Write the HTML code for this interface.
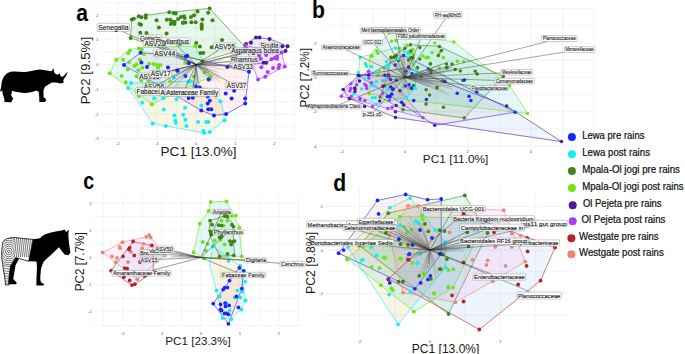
<!DOCTYPE html><html><head><meta charset="utf-8"><style>html,body{margin:0;padding:0;background:#fff;}svg{display:block;font-family:"Liberation Sans",sans-serif;}</style></head><body>
<svg width="685" height="354" viewBox="0 0 685 354">
<defs><clipPath id="zrc"><path d="M2.8,242.4 C4,239.5 7,238 13.8,237.5 C18,237.8 24,238.8 33.2,239.3 L28.6,261.3 L22.6,259.6 L19.2,258.4 L15.5,257.5 L10.5,266 L9.6,272 L8.7,281 L8.6,283.5 L9.2,285 L5.4,285 L5.2,281 L4.4,275 L3.2,268.5 L2.6,264 C1.8,260 1.6,256 1.8,252 C1.9,248.5 2.2,245 2.8,242.4 Z"/></clipPath><clipPath id="zrump"><rect x="0" y="236" width="14.5" height="30"/></clipPath></defs>
<path d="M2.5,79.4 C4,75.5 6.5,72.8 10,71.9 C14,71.2 20,72 25,71.9 C30,71.5 35,69.8 39.9,69.5 C43,69.6 47,70.6 51.1,71.3 L52.1,70.4 L53.5,68.0 L54.1,72.2 C55,73.3 56,74.2 57,74.4 L58.6,74.3 L59.9,73.2 L60.4,75.8 L62.5,76.9 C64,75.5 66,73.5 67.6,71.5 C66.8,74.5 65.5,77 64.4,78.2 L63.4,80 L63.6,82.4 L61.1,83.4 C59,83.2 57.5,82.8 56.1,82.5 L51.7,82.6 L48.6,84.4 L45,86.8 L43.4,90.6 L43.6,97.2 L45.5,98.6 L46,100.6 L44.9,102 L39.3,102 L39.3,98 L38.7,91.8 L36.2,90.6 C33,92.2 29,93 24.8,93 C21,92.8 17,92.2 12,90.8 L11.2,95.5 L13.1,98.6 L11.3,102.3 L4.4,101.9 L4.4,99.3 L2.6,93.5 L2.2,90.4 L0.4,91.8 L0.2,90.6 L1.2,87 C1.3,84 1.8,81.4 2.5,79.4 Z" fill="#000"/>
<path d="M2.8,242.4 C4,239.5 7,238 13.8,237.5 C18,237.8 24,238.8 33,239.3 L40,238.2 L41.6,236.4 L45.2,234.2 C49,232.8 53,231.8 57,231.2 L61.8,230.4 L64.5,229.4 L66.2,232 L68.8,229.8 L68.3,234.8 C68.6,238 68.8,242 69.3,245.2 L70.4,252.4 L68.3,255.3 L64.5,254.5 L60.8,249.8 L59,247.2 L55.3,250.7 L50.7,255.3 L46.3,259 L43.6,261.8 L41,268.5 L40.2,278.3 L40.8,282 L44.2,284.3 L43.5,285.6 L36.4,285.6 L36.4,280.1 L37,267.3 L36.5,261.5 L28.6,261.3 L22.6,259.6 L19.2,258.4 L15.6,265 L14.4,272 L13.2,279 L16.6,282.4 L16.3,284.2 L8.6,284.2 L8.7,281 L8.2,278 L8.6,283.5 L9.2,285 L5.4,285 L5.2,281 L4.4,275 L3.2,268.5 L2.6,264 C1.8,260 1.6,256 1.8,252 C1.9,248.5 2.2,245 2.8,242.4 Z" fill="#000"/>
<g clip-path="url(#zrc)"><rect x="0" y="230" width="40" height="60" fill="#fff"/><g stroke="#000" stroke-width="0.55" fill="none"><g><path d="M12.2,236 Q13.6,248 14.6,257"/><path d="M14.2,236 Q15.6,248 16.6,257"/><path d="M16.2,236 Q17.6,248 18.6,257"/><path d="M18.2,236 Q19.6,248 20.6,257"/><path d="M20.2,236 Q21.6,248 22.6,257"/><path d="M22.2,236 Q23.6,248 24.6,257"/><path d="M24.2,236 Q25.6,248 26.6,257"/><path d="M26.2,236 Q27.6,248 28.6,257"/><path d="M28.2,236 Q29.6,248 30.6,257"/><path d="M30.2,236 Q31.6,248 32.6,257"/><path d="M32.2,236 Q33.6,248 34.6,257"/></g><g clip-path="url(#zrump)"><rect x="0" y="236" width="14.5" height="30" fill="#fff" stroke="none"/><circle cx="8.8" cy="251.5" r="1.3"/><circle cx="8.8" cy="251.5" r="3.3"/><circle cx="8.8" cy="251.5" r="5.3"/><circle cx="8.8" cy="251.5" r="7.3"/><circle cx="8.8" cy="251.5" r="9.3"/><circle cx="8.8" cy="251.5" r="11.3"/><circle cx="8.8" cy="251.5" r="13.3"/></g><line x1="2" y1="265.5" x2="13" y2="267.0"/><line x1="2" y1="268.0" x2="13" y2="269.5"/><line x1="2" y1="270.5" x2="13" y2="272.0"/><line x1="2" y1="273.0" x2="13" y2="274.5"/><line x1="2" y1="275.5" x2="13" y2="277.0"/><line x1="2" y1="278.0" x2="13" y2="279.5"/><line x1="2" y1="280.5" x2="13" y2="282.0"/><line x1="2" y1="283.0" x2="13" y2="284.5"/></g></g><path d="M2.8,242.4 C4,239.5 7,238 13.8,237.5 C18,237.8 24,238.8 33.2,239.3 L28.6,261.3 L22.6,259.6 L19.2,258.4 L15.5,257.5 L10.5,266 L9.6,272 L8.7,281 L8.6,283.5 L9.2,285 L5.4,285 L5.2,281 L4.4,275 L3.2,268.5 L2.6,264 C1.8,260 1.6,256 1.8,252 C1.9,248.5 2.2,245 2.8,242.4 Z" fill="none" stroke="#000" stroke-width="0.7"/>
<g stroke="#ebebeb" stroke-width="0.6"><line x1="117.7" y1="2" x2="117.7" y2="140"/><line x1="137.3" y1="2" x2="137.3" y2="140"/><line x1="156.9" y1="2" x2="156.9" y2="140"/><line x1="176.5" y1="2" x2="176.5" y2="140"/><line x1="196.1" y1="2" x2="196.1" y2="140"/><line x1="215.7" y1="2" x2="215.7" y2="140"/><line x1="235.3" y1="2" x2="235.3" y2="140"/><line x1="254.9" y1="2" x2="254.9" y2="140"/><line x1="274.5" y1="2" x2="274.5" y2="140"/><line x1="294.1" y1="2" x2="294.1" y2="140"/><line x1="100" y1="2.8" x2="296" y2="2.8"/><line x1="100" y1="15.2" x2="296" y2="15.2"/><line x1="100" y1="27.5" x2="296" y2="27.5"/><line x1="100" y1="39.9" x2="296" y2="39.9"/><line x1="100" y1="52.2" x2="296" y2="52.2"/><line x1="100" y1="64.6" x2="296" y2="64.6"/><line x1="100" y1="76.9" x2="296" y2="76.9"/><line x1="100" y1="89.3" x2="296" y2="89.3"/><line x1="100" y1="101.6" x2="296" y2="101.6"/><line x1="100" y1="114" x2="296" y2="114"/><line x1="100" y1="126.3" x2="296" y2="126.3"/><line x1="100" y1="138.7" x2="296" y2="138.7"/></g>
<g font-size="4.2" fill="#555"><text x="117.7" y="144.9" text-anchor="middle">-2</text><text x="156.9" y="144.9" text-anchor="middle">-1</text><text x="196.1" y="144.9" text-anchor="middle">0</text><text x="235.3" y="144.9" text-anchor="middle">1</text><text x="274.5" y="144.9" text-anchor="middle">2</text><text x="98.6" y="16.7" text-anchor="end">2</text><text x="98.6" y="41.4" text-anchor="end">1</text><text x="98.6" y="66.1" text-anchor="end">0</text><text x="98.6" y="90.8" text-anchor="end">-1</text><text x="98.6" y="115.5" text-anchor="end">-2</text><text x="98.6" y="140.2" text-anchor="end">-3</text></g>
<g stroke="#ebebeb" stroke-width="0.6"><line x1="342" y1="7" x2="342" y2="148"/><line x1="373.5" y1="7" x2="373.5" y2="148"/><line x1="405" y1="7" x2="405" y2="148"/><line x1="436.5" y1="7" x2="436.5" y2="148"/><line x1="468" y1="7" x2="468" y2="148"/><line x1="499.5" y1="7" x2="499.5" y2="148"/><line x1="531" y1="7" x2="531" y2="148"/><line x1="562.5" y1="7" x2="562.5" y2="148"/><line x1="594" y1="7" x2="594" y2="148"/><line x1="318" y1="8.6" x2="593" y2="8.6"/><line x1="318" y1="25.8" x2="593" y2="25.8"/><line x1="318" y1="43" x2="593" y2="43"/><line x1="318" y1="60.2" x2="593" y2="60.2"/><line x1="318" y1="77.4" x2="593" y2="77.4"/><line x1="318" y1="94.6" x2="593" y2="94.6"/><line x1="318" y1="111.8" x2="593" y2="111.8"/><line x1="318" y1="129" x2="593" y2="129"/><line x1="318" y1="146.2" x2="593" y2="146.2"/></g>
<g font-size="4.2" fill="#555"><text x="342" y="152.5" text-anchor="middle">-2</text><text x="405" y="152.5" text-anchor="middle">0</text><text x="468" y="152.5" text-anchor="middle">2</text><text x="531" y="152.5" text-anchor="middle">4</text><text x="316.5" y="44.5" text-anchor="end">2</text><text x="316.5" y="78.9" text-anchor="end">0</text><text x="316.5" y="113.3" text-anchor="end">-2</text><text x="316.5" y="147.7" text-anchor="end">-4</text></g>
<g stroke="#ebebeb" stroke-width="0.6"><line x1="103.3" y1="195" x2="103.3" y2="326"/><line x1="122.8" y1="195" x2="122.8" y2="326"/><line x1="142.3" y1="195" x2="142.3" y2="326"/><line x1="161.8" y1="195" x2="161.8" y2="326"/><line x1="181.3" y1="195" x2="181.3" y2="326"/><line x1="200.8" y1="195" x2="200.8" y2="326"/><line x1="220.3" y1="195" x2="220.3" y2="326"/><line x1="239.8" y1="195" x2="239.8" y2="326"/><line x1="259.3" y1="195" x2="259.3" y2="326"/><line x1="278.8" y1="195" x2="278.8" y2="326"/><line x1="298.3" y1="195" x2="298.3" y2="326"/><line x1="93" y1="203.1" x2="302" y2="203.1"/><line x1="93" y1="216.7" x2="302" y2="216.7"/><line x1="93" y1="230.3" x2="302" y2="230.3"/><line x1="93" y1="243.9" x2="302" y2="243.9"/><line x1="93" y1="257.5" x2="302" y2="257.5"/><line x1="93" y1="271.1" x2="302" y2="271.1"/><line x1="93" y1="284.7" x2="302" y2="284.7"/><line x1="93" y1="298.3" x2="302" y2="298.3"/><line x1="93" y1="311.9" x2="302" y2="311.9"/><line x1="93" y1="325.5" x2="302" y2="325.5"/></g>
<g font-size="4.2" fill="#555"><text x="122.8" y="334.8" text-anchor="middle">-2</text><text x="161.8" y="334.8" text-anchor="middle">-1</text><text x="200.8" y="334.8" text-anchor="middle">0</text><text x="239.8" y="334.8" text-anchor="middle">1</text><text x="278.8" y="334.8" text-anchor="middle">2</text><text x="91.5" y="204.6" text-anchor="end">2</text><text x="91.5" y="231.8" text-anchor="end">1</text><text x="91.5" y="259" text-anchor="end">0</text><text x="91.5" y="286.2" text-anchor="end">-1</text><text x="91.5" y="313.4" text-anchor="end">-2</text></g>
<g stroke="#ebebeb" stroke-width="0.6"><line x1="359.5" y1="188" x2="359.5" y2="336.5"/><line x1="394.8" y1="188" x2="394.8" y2="336.5"/><line x1="430" y1="188" x2="430" y2="336.5"/><line x1="465.2" y1="188" x2="465.2" y2="336.5"/><line x1="500.5" y1="188" x2="500.5" y2="336.5"/><line x1="535.8" y1="188" x2="535.8" y2="336.5"/><line x1="324.9" y1="206.5" x2="567" y2="206.5"/><line x1="324.9" y1="228.2" x2="567" y2="228.2"/><line x1="324.9" y1="250" x2="567" y2="250"/><line x1="324.9" y1="271.8" x2="567" y2="271.8"/><line x1="324.9" y1="293.5" x2="567" y2="293.5"/><line x1="324.9" y1="315.2" x2="567" y2="315.2"/></g>
<g font-size="4.2" fill="#555"><text x="359.5" y="342.5" text-anchor="middle">-2</text><text x="430" y="342.5" text-anchor="middle">0</text><text x="500.5" y="342.5" text-anchor="middle">2</text><text x="323" y="208" text-anchor="end">2</text><text x="323" y="251.5" text-anchor="end">0</text><text x="323" y="295" text-anchor="end">-2</text></g>
<polygon points="128.2,88 131,83.1 190.7,81.2 221.2,101 224.6,120.4 209.8,132 204.1,133.1 166,126 152.7,123.5" fill="#B79F00" fill-opacity="0.1" stroke="#12eef8" stroke-width="0.6" stroke-linejoin="round"/><polygon points="124,65.1 140.6,52.7 185.9,56.5 249,71.7 245.2,103.4 226.1,114 214,115.5 201.3,110.4" fill="#F8766D" fill-opacity="0.1" stroke="#1428ff" stroke-width="0.6" stroke-linejoin="round"/><polygon points="109.7,73.3 116.3,59.8 129.3,50.2 138.9,47.5 195.4,46.3 210.8,76.5 151.9,104.2" fill="#00BFC4" fill-opacity="0.1" stroke="#6fe31a" stroke-width="0.6" stroke-linejoin="round"/><polygon points="130.6,38 131.8,19.5 145.9,15.2 169.3,12.3 209.6,8.4 246.5,48.5 202.4,61.2" fill="#00BA38" fill-opacity="0.1" stroke="#41821a" stroke-width="0.6" stroke-linejoin="round"/><polygon points="227.3,67.1 245.9,44 256,37.5 269.5,38.9 287.6,46.3 285.5,51 266.1,62.7" fill="#619CFF" fill-opacity="0.1" stroke="#4e1a96" stroke-width="0.6" stroke-linejoin="round"/><polygon points="245.1,45.6 281.7,52.5 284.8,66.5 265.3,76.7 258,79.5" fill="#F564E3" fill-opacity="0.1" stroke="#a541f2" stroke-width="0.6" stroke-linejoin="round"/>
<g fill="#41821a"><circle cx="131.8" cy="19.5" r="2.0"/><circle cx="133.8" cy="18.8" r="2.0"/><circle cx="138.8" cy="16.3" r="2.0"/><circle cx="141.4" cy="17.2" r="2.0"/><circle cx="145.9" cy="15.2" r="2.0"/><circle cx="145.7" cy="17.7" r="2.0"/><circle cx="139.5" cy="24" r="2.0"/><circle cx="141" cy="24.8" r="2.0"/><circle cx="156.6" cy="20.3" r="2.0"/><circle cx="158.9" cy="27.6" r="2.0"/><circle cx="140.3" cy="32.7" r="2.0"/><circle cx="146.5" cy="33" r="2.0"/><circle cx="166.6" cy="33.6" r="2.0"/><circle cx="130.6" cy="38" r="2.0"/><circle cx="169.3" cy="12.3" r="2.0"/><circle cx="173.6" cy="13.1" r="2.0"/><circle cx="175.8" cy="13.5" r="2.0"/><circle cx="166.8" cy="19.7" r="2.0"/><circle cx="170.2" cy="19.7" r="2.0"/><circle cx="172.5" cy="21.7" r="2.0"/><circle cx="174.7" cy="21.7" r="2.0"/><circle cx="170.8" cy="24" r="2.0"/><circle cx="174.4" cy="24" r="2.0"/><circle cx="178.1" cy="19.1" r="2.0"/><circle cx="180.9" cy="16.9" r="2.0"/><circle cx="183.2" cy="22.5" r="2.0"/><circle cx="209.6" cy="8.4" r="2.0"/><circle cx="197.5" cy="11.4" r="2.0"/><circle cx="208.2" cy="12.7" r="2.0"/><circle cx="184" cy="16.3" r="2.0"/><circle cx="184.7" cy="18" r="2.0"/><circle cx="191" cy="16.9" r="2.0"/><circle cx="194.1" cy="15.2" r="2.0"/><circle cx="182.8" cy="22.9" r="2.0"/><circle cx="185.4" cy="22.5" r="2.0"/><circle cx="191.3" cy="22.2" r="2.0"/><circle cx="195.6" cy="22.2" r="2.0"/><circle cx="202.4" cy="19.5" r="2.0"/><circle cx="212.5" cy="20.3" r="2.0"/><circle cx="201.7" cy="24.2" r="2.0"/><circle cx="201.7" cy="26.5" r="2.0"/><circle cx="201.7" cy="28.7" r="2.0"/><circle cx="196.2" cy="42.9" r="2.0"/><circle cx="199.9" cy="46.5" r="2.0"/><circle cx="211.7" cy="47.2" r="2.0"/><circle cx="200.5" cy="52.9" r="2.0"/><circle cx="203.3" cy="52.9" r="2.0"/><circle cx="202.4" cy="61.2" r="2.0"/><circle cx="246.5" cy="48.5" r="2.0"/><circle cx="150" cy="37" r="2.0"/><circle cx="180" cy="44" r="2.0"/><circle cx="222" cy="40" r="2.0"/></g><g fill="#6fe31a"><circle cx="109.7" cy="73.3" r="2.0"/><circle cx="116.3" cy="59.8" r="2.0"/><circle cx="123.1" cy="59.8" r="2.0"/><circle cx="128.2" cy="53.3" r="2.0"/><circle cx="138.9" cy="48.5" r="2.0"/><circle cx="141.7" cy="49.6" r="2.0"/><circle cx="144" cy="54.1" r="2.0"/><circle cx="129.3" cy="62" r="2.0"/><circle cx="127.6" cy="69.6" r="2.0"/><circle cx="134.4" cy="66" r="2.0"/><circle cx="136.6" cy="64.6" r="2.0"/><circle cx="140" cy="59.8" r="2.0"/><circle cx="142.3" cy="67.7" r="2.0"/><circle cx="138.3" cy="70.3" r="2.0"/><circle cx="121.7" cy="75.9" r="2.0"/><circle cx="136.6" cy="76.2" r="2.0"/><circle cx="149.1" cy="63.7" r="2.0"/><circle cx="153.6" cy="64" r="2.0"/><circle cx="157" cy="64.9" r="2.0"/><circle cx="160.4" cy="64.9" r="2.0"/><circle cx="158.1" cy="67.7" r="2.0"/><circle cx="125.9" cy="82.3" r="2.0"/><circle cx="138.9" cy="96.2" r="2.0"/><circle cx="151.9" cy="104.2" r="2.0"/><circle cx="141.2" cy="80.6" r="2.0"/><circle cx="148.5" cy="81.2" r="2.0"/><circle cx="195.4" cy="46.3" r="2.0"/><circle cx="185.3" cy="62.8" r="2.0"/><circle cx="204.4" cy="72.6" r="2.0"/><circle cx="210.8" cy="76.5" r="2.0"/><circle cx="193.9" cy="76.5" r="2.0"/><circle cx="170.2" cy="81.2" r="2.0"/><circle cx="130" cy="50.5" r="2.0"/></g><g fill="#1428ff"><circle cx="140.6" cy="52.7" r="2.0"/><circle cx="124" cy="65.1" r="2.0"/><circle cx="141.4" cy="62.4" r="2.0"/><circle cx="147" cy="67.1" r="2.0"/><circle cx="185.9" cy="56.5" r="2.0"/><circle cx="188.8" cy="63.3" r="2.0"/><circle cx="177.6" cy="70.7" r="2.0"/><circle cx="168" cy="67.4" r="2.0"/><circle cx="185.4" cy="75.9" r="2.0"/><circle cx="208.7" cy="79.5" r="2.0"/><circle cx="196" cy="86.5" r="2.0"/><circle cx="199.8" cy="87.5" r="2.0"/><circle cx="188.6" cy="98.1" r="2.0"/><circle cx="192.8" cy="97.7" r="2.0"/><circle cx="207.7" cy="96.4" r="2.0"/><circle cx="209.8" cy="100.7" r="2.0"/><circle cx="207.7" cy="103.4" r="2.0"/><circle cx="208.3" cy="109.2" r="2.0"/><circle cx="211.3" cy="109.2" r="2.0"/><circle cx="201.3" cy="110.4" r="2.0"/><circle cx="214" cy="115.5" r="2.0"/><circle cx="226.1" cy="114" r="2.0"/><circle cx="225.7" cy="93.5" r="2.0"/><circle cx="231.6" cy="98.6" r="2.0"/><circle cx="234.2" cy="90.7" r="2.0"/><circle cx="245.2" cy="98.6" r="2.0"/><circle cx="245.2" cy="103.4" r="2.0"/><circle cx="249" cy="71.7" r="2.0"/><circle cx="187.2" cy="55.7" r="2.0"/><circle cx="177.3" cy="70.5" r="2.0"/></g><g fill="#12eef8"><circle cx="131" cy="83.1" r="2.0"/><circle cx="128.2" cy="88" r="2.0"/><circle cx="142.3" cy="102.7" r="2.0"/><circle cx="154.2" cy="98.2" r="2.0"/><circle cx="163.2" cy="98.2" r="2.0"/><circle cx="163.8" cy="109.5" r="2.0"/><circle cx="190.7" cy="81.2" r="2.0"/><circle cx="176.5" cy="99.2" r="2.0"/><circle cx="185" cy="107.7" r="2.0"/><circle cx="174.4" cy="115.5" r="2.0"/><circle cx="183.3" cy="114.7" r="2.0"/><circle cx="175.3" cy="120.4" r="2.0"/><circle cx="175.9" cy="123.1" r="2.0"/><circle cx="185.4" cy="119.7" r="2.0"/><circle cx="198.1" cy="121.9" r="2.0"/><circle cx="206.2" cy="121.9" r="2.0"/><circle cx="208.3" cy="122.1" r="2.0"/><circle cx="186.5" cy="126.1" r="2.0"/><circle cx="165.9" cy="126.1" r="2.0"/><circle cx="203.4" cy="131" r="2.0"/><circle cx="204.1" cy="133.1" r="2.0"/><circle cx="209.8" cy="132" r="2.0"/><circle cx="224.6" cy="120.4" r="2.0"/><circle cx="220.4" cy="101.3" r="2.0"/><circle cx="201.3" cy="105.6" r="2.0"/><circle cx="152.7" cy="123.5" r="2.0"/><circle cx="173.8" cy="78" r="2.0"/><circle cx="188.2" cy="81.8" r="2.0"/><circle cx="161.5" cy="87.7" r="2.0"/></g><g fill="#4e1a96"><circle cx="256" cy="37.5" r="2.0"/><circle cx="259.6" cy="37.5" r="2.0"/><circle cx="269.5" cy="38.9" r="2.0"/><circle cx="245.9" cy="44" r="2.0"/><circle cx="251" cy="42.8" r="2.0"/><circle cx="282.4" cy="46.3" r="2.0"/><circle cx="287.6" cy="46.3" r="2.0"/><circle cx="285.5" cy="51" r="2.0"/><circle cx="263.5" cy="62.7" r="2.0"/><circle cx="266.1" cy="62.7" r="2.0"/><circle cx="227.3" cy="67.1" r="2.0"/></g><g fill="#a541f2"><circle cx="281.7" cy="52.5" r="2.0"/><circle cx="277" cy="56.4" r="2.0"/><circle cx="274.7" cy="58" r="2.0"/><circle cx="271.5" cy="59.2" r="2.0"/><circle cx="277" cy="58.8" r="2.0"/><circle cx="284.8" cy="66.5" r="2.0"/><circle cx="279.3" cy="65" r="2.0"/><circle cx="273.1" cy="68.1" r="2.0"/><circle cx="278.5" cy="68.1" r="2.0"/><circle cx="267.7" cy="72" r="2.0"/><circle cx="265.3" cy="76.7" r="2.0"/><circle cx="258" cy="79.5" r="2.0"/><circle cx="261.4" cy="67.3" r="2.0"/><circle cx="266.1" cy="54.9" r="2.0"/><circle cx="259.1" cy="55.7" r="2.0"/><circle cx="260.7" cy="58.8" r="2.0"/><circle cx="245.1" cy="45.6" r="2.0"/></g>
<g stroke="#6e6e6e" stroke-width="0.3"><line x1="196.1" y1="64.6" x2="219" y2="72.7"/><line x1="196.1" y1="64.6" x2="219" y2="75.2"/><line x1="196.1" y1="64.6" x2="209.3" y2="73.8"/><line x1="196.1" y1="64.6" x2="224.8" y2="69.9"/><line x1="196.1" y1="64.6" x2="213.9" y2="71.2"/><line x1="196.1" y1="64.6" x2="210.9" y2="82.2"/><line x1="196.1" y1="64.6" x2="212.9" y2="80.5"/><line x1="196.1" y1="64.6" x2="210.4" y2="74.8"/><line x1="196.1" y1="64.6" x2="220.4" y2="81.8"/><line x1="196.1" y1="64.6" x2="219.8" y2="78.8"/><line x1="196.1" y1="64.6" x2="209" y2="74.3"/><line x1="196.1" y1="64.6" x2="215.2" y2="80.8"/><line x1="196.1" y1="64.6" x2="210.5" y2="70.4"/><line x1="196.1" y1="64.6" x2="212.5" y2="80.8"/><line x1="196.1" y1="64.6" x2="197.9" y2="83.6"/><line x1="196.1" y1="64.6" x2="196.8" y2="84.1"/><line x1="196.1" y1="64.6" x2="199.4" y2="86.4"/><line x1="196.1" y1="64.6" x2="192.3" y2="90.3"/><line x1="196.1" y1="64.6" x2="194.2" y2="84.7"/><line x1="196.1" y1="64.6" x2="195.8" y2="85.4"/><line x1="196.1" y1="64.6" x2="198.3" y2="83.5"/><line x1="196.1" y1="64.6" x2="198.8" y2="91.7"/><line x1="196.1" y1="64.6" x2="173.9" y2="78.4"/><line x1="196.1" y1="64.6" x2="172.4" y2="70.1"/><line x1="196.1" y1="64.6" x2="172.9" y2="77.8"/><line x1="196.1" y1="64.6" x2="177.5" y2="81.7"/><line x1="196.1" y1="64.6" x2="168.1" y2="77.5"/><line x1="196.1" y1="64.6" x2="181.5" y2="79.8"/><line x1="196.1" y1="64.6" x2="174.6" y2="87.2"/><line x1="196.1" y1="64.6" x2="181.4" y2="70.6"/><line x1="196.1" y1="64.6" x2="229.2" y2="64.3"/><line x1="196.1" y1="64.6" x2="218.9" y2="65.9"/><line x1="196.1" y1="64.6" x2="223.2" y2="59.9"/><line x1="196.1" y1="64.6" x2="232.2" y2="61.7"/><line x1="196.1" y1="64.6" x2="228.1" y2="66.7"/><line x1="196.1" y1="64.6" x2="229.3" y2="65.3"/></g><g stroke="#222" stroke-width="0.45"><line x1="196.1" y1="64.6" x2="155.9" y2="41.5"/><line x1="196.1" y1="64.6" x2="161.3" y2="46.8"/><line x1="196.1" y1="64.6" x2="122.5" y2="31.5"/><line x1="196.1" y1="64.6" x2="175.6" y2="44.2"/><line x1="196.1" y1="64.6" x2="174.3" y2="56.7"/><line x1="196.1" y1="64.6" x2="160.6" y2="73.4"/><line x1="196.1" y1="64.6" x2="171.8" y2="71"/><line x1="196.1" y1="64.6" x2="159.6" y2="83.4"/><line x1="196.1" y1="64.6" x2="166.3" y2="87.7"/><line x1="196.1" y1="64.6" x2="185.3" y2="88.3"/><line x1="196.1" y1="64.6" x2="192.8" y2="88.3"/><line x1="196.1" y1="64.6" x2="219.2" y2="49.8"/><line x1="196.1" y1="64.6" x2="259.3" y2="48.4"/><line x1="196.1" y1="64.6" x2="242.5" y2="53.7"/><line x1="196.1" y1="64.6" x2="230" y2="61.3"/><line x1="196.1" y1="64.6" x2="232.2" y2="65.7"/><line x1="196.1" y1="64.6" x2="230" y2="82.4"/></g>
<g fill="#1a1a1a" stroke="#1a1a1a" stroke-width="0.143"><rect x="138.8" y="34.9" width="22.8" height="6.6" rx="0.8" fill="#fff" fill-opacity="0.8" stroke="#8a8a8a" stroke-width="0.45"/><text x="139.9" y="40.6" font-size="6.76" textLength="20.6" lengthAdjust="spacingAndGlyphs">Grewia</text><rect x="143.3" y="39.9" width="22.4" height="6.9" rx="0.8" fill="#fff" fill-opacity="0.8" stroke="#8a8a8a" stroke-width="0.45"/><text x="144.4" y="45.8" font-size="6.76" textLength="20.2" lengthAdjust="spacingAndGlyphs">ASV13</text><rect x="97.2" y="23.3" width="32.3" height="8.2" rx="0.8" fill="#fff" fill-opacity="0.8" stroke="#8a8a8a" stroke-width="0.45"/><text x="98.3" y="29.8" font-size="6.76" textLength="30.1" lengthAdjust="spacingAndGlyphs">Senegalia</text><rect x="154.6" y="37.9" width="35.6" height="6.3" rx="0.8" fill="#fff" fill-opacity="0.8" stroke="#8a8a8a" stroke-width="0.45"/><text x="155.7" y="43.5" font-size="6.76" textLength="33.4" lengthAdjust="spacingAndGlyphs">Phyllanthus</text><rect x="153.2" y="49.8" width="23.1" height="6.9" rx="0.8" fill="#fff" fill-opacity="0.8" stroke="#8a8a8a" stroke-width="0.45"/><text x="154.3" y="55.7" font-size="6.76" textLength="20.9" lengthAdjust="spacingAndGlyphs">ASV44</text><rect x="138.2" y="73" width="22.4" height="6.4" rx="0.8" fill="#fff" fill-opacity="0.8" stroke="#8a8a8a" stroke-width="0.45"/><text x="139.3" y="78.6" font-size="6.76" textLength="20.2" lengthAdjust="spacingAndGlyphs">ASV16</text><rect x="149.6" y="70.5" width="22.2" height="6.9" rx="0.8" fill="#fff" fill-opacity="0.8" stroke="#8a8a8a" stroke-width="0.45"/><text x="150.7" y="76.4" font-size="6.76" textLength="20" lengthAdjust="spacingAndGlyphs">ASV17</text><rect x="142.7" y="83.4" width="22.4" height="5.9" rx="0.8" fill="#fff" fill-opacity="0.8" stroke="#8a8a8a" stroke-width="0.45"/><text x="143.8" y="88.8" font-size="6.76" textLength="20.2" lengthAdjust="spacingAndGlyphs">ASV56</text><rect x="135.4" y="87.7" width="52.1" height="7.5" rx="0.8" fill="#fff" fill-opacity="0.8" stroke="#8a8a8a" stroke-width="0.45"/><text x="136.5" y="93.9" font-size="6.76" textLength="49.9" lengthAdjust="spacingAndGlyphs">Fabaceae Family</text><rect x="159.5" y="88.3" width="48.1" height="7.9" rx="0.8" fill="#fff" fill-opacity="0.8" stroke="#8a8a8a" stroke-width="0.45"/><text x="160.6" y="94.7" font-size="6.76" textLength="45.9" lengthAdjust="spacingAndGlyphs">Amaranthaceae</text><rect x="165.2" y="88.3" width="54" height="7.9" rx="0.8" fill="#fff" fill-opacity="0.8" stroke="#8a8a8a" stroke-width="0.45"/><text x="166.3" y="94.7" font-size="6.76" textLength="51.8" lengthAdjust="spacingAndGlyphs">Asteraceae Family</text><rect x="213.4" y="42.8" width="22.6" height="7" rx="0.8" fill="#fff" fill-opacity="0.8" stroke="#8a8a8a" stroke-width="0.45"/><text x="214.5" y="48.7" font-size="6.76" textLength="20.4" lengthAdjust="spacingAndGlyphs">ASV55</text><rect x="259.3" y="42.8" width="20.3" height="6" rx="0.8" fill="#fff" fill-opacity="0.8" stroke="#8a8a8a" stroke-width="0.45"/><text x="260.4" y="48.2" font-size="6.76" textLength="18.1" lengthAdjust="spacingAndGlyphs">Scutia</text><rect x="230.2" y="47.8" width="49.8" height="5.9" rx="0.8" fill="#fff" fill-opacity="0.8" stroke="#8a8a8a" stroke-width="0.45"/><text x="231.3" y="53.2" font-size="6.76" textLength="47.6" lengthAdjust="spacingAndGlyphs">Asparagus bclea</text><rect x="230" y="56.7" width="28.9" height="6.5" rx="0.8" fill="#fff" fill-opacity="0.8" stroke="#8a8a8a" stroke-width="0.45"/><text x="231.1" y="62.4" font-size="6.76" textLength="26.7" lengthAdjust="spacingAndGlyphs">Rhamnus</text><rect x="232.2" y="63" width="21.6" height="6.1" rx="0.8" fill="#fff" fill-opacity="0.8" stroke="#8a8a8a" stroke-width="0.45"/><text x="233.3" y="68.5" font-size="6.76" textLength="19.4" lengthAdjust="spacingAndGlyphs">ASV33</text><rect x="225.7" y="82.4" width="21.7" height="6.9" rx="0.8" fill="#fff" fill-opacity="0.8" stroke="#8a8a8a" stroke-width="0.45"/><text x="226.8" y="88.3" font-size="6.76" textLength="19.5" lengthAdjust="spacingAndGlyphs">ASV37</text></g>
<polygon points="360.1,57.4 395,47.9 408,52.5 416,70 415.4,88.6 406.7,97.3 376.3,104.3 353.8,93.9 358.3,72.5" fill="#B79F00" fill-opacity="0.1" stroke="#12eef8" stroke-width="0.6" stroke-linejoin="round"/><polygon points="359,75.6 368.6,75.1 403.6,55.3 515.2,112.2 434.7,125.3" fill="#F8766D" fill-opacity="0.1" stroke="#1428ff" stroke-width="0.6" stroke-linejoin="round"/><polygon points="369.6,56 389,33 453.9,41.9 509.6,85.4 527.5,113.4 413.6,100.8 369.1,93.8" fill="#00BFC4" fill-opacity="0.1" stroke="#6fe31a" stroke-width="0.6" stroke-linejoin="round"/><polygon points="384.5,85.7 391.2,57.2 410.4,44.8 439.4,46.4 503.3,76.6 464.3,118 403,109.7 380,97" fill="#00BA38" fill-opacity="0.1" stroke="#41821a" stroke-width="0.6" stroke-linejoin="round"/><polygon points="343.2,89.5 358.3,75.6 407.6,67.8 506.7,106.1 561.5,141.6 395.5,117.4 349.4,98.6" fill="#619CFF" fill-opacity="0.1" stroke="#4e1a96" stroke-width="0.6" stroke-linejoin="round"/><polygon points="341.3,96.2 350.9,83.8 368.6,71.3 388.8,77.3 422.9,117.8" fill="#F564E3" fill-opacity="0.1" stroke="#a541f2" stroke-width="0.6" stroke-linejoin="round"/>
<g fill="#6fe31a"><circle cx="371.8" cy="56.1" r="1.75"/><circle cx="376.8" cy="51" r="1.75"/><circle cx="377.9" cy="53.2" r="1.75"/><circle cx="391.5" cy="41.3" r="1.75"/><circle cx="395.9" cy="40.5" r="1.75"/><circle cx="399.7" cy="47.9" r="1.75"/><circle cx="406.7" cy="45.3" r="1.75"/><circle cx="434.7" cy="42.9" r="1.75"/><circle cx="453.9" cy="41.9" r="1.75"/><circle cx="432.2" cy="52.6" r="1.75"/><circle cx="422.9" cy="56" r="1.75"/><circle cx="426" cy="57.6" r="1.75"/><circle cx="428.4" cy="57.6" r="1.75"/><circle cx="439.6" cy="52.6" r="1.75"/><circle cx="443.4" cy="57.6" r="1.75"/><circle cx="457.6" cy="60.9" r="1.75"/><circle cx="412.9" cy="49.4" r="1.75"/><circle cx="411.1" cy="52.6" r="1.75"/><circle cx="413.5" cy="54.7" r="1.75"/><circle cx="439.2" cy="68.1" r="1.75"/><circle cx="457.2" cy="61.2" r="1.75"/><circle cx="463.7" cy="61.5" r="1.75"/><circle cx="413.1" cy="63.7" r="1.75"/><circle cx="369.1" cy="93.8" r="1.75"/><circle cx="377.7" cy="75.6" r="1.75"/><circle cx="379.7" cy="71.3" r="1.75"/><circle cx="384" cy="68.4" r="1.75"/><circle cx="527.5" cy="113.4" r="1.75"/><circle cx="389" cy="33" r="1.75"/><circle cx="509.6" cy="85.4" r="1.75"/><circle cx="413.6" cy="100.8" r="1.75"/><circle cx="371.4" cy="56.2" r="1.75"/></g><g fill="#41821a"><circle cx="390.8" cy="57.4" r="1.75"/><circle cx="396.5" cy="55.5" r="1.75"/><circle cx="398.4" cy="60.6" r="1.75"/><circle cx="404.8" cy="48.5" r="1.75"/><circle cx="408.6" cy="52.3" r="1.75"/><circle cx="410.4" cy="44.8" r="1.75"/><circle cx="419.8" cy="47.6" r="1.75"/><circle cx="439.4" cy="46.4" r="1.75"/><circle cx="441.5" cy="50.6" r="1.75"/><circle cx="438.4" cy="55.6" r="1.75"/><circle cx="410.8" cy="51" r="1.75"/><circle cx="391.2" cy="57.2" r="1.75"/><circle cx="393.7" cy="57.6" r="1.75"/><circle cx="396.1" cy="56" r="1.75"/><circle cx="411.1" cy="57.2" r="1.75"/><circle cx="412.9" cy="57.8" r="1.75"/><circle cx="419.8" cy="59.1" r="1.75"/><circle cx="430.3" cy="64" r="1.75"/><circle cx="446.5" cy="64" r="1.75"/><circle cx="452" cy="64" r="1.75"/><circle cx="417.3" cy="67.8" r="1.75"/><circle cx="455.2" cy="69.6" r="1.75"/><circle cx="447.1" cy="67.8" r="1.75"/><circle cx="408.6" cy="60" r="1.75"/><circle cx="430.5" cy="63.7" r="1.75"/><circle cx="417.5" cy="68.1" r="1.75"/><circle cx="431.1" cy="70.6" r="1.75"/><circle cx="430.9" cy="73" r="1.75"/><circle cx="446.6" cy="67.7" r="1.75"/><circle cx="460.3" cy="70.9" r="1.75"/><circle cx="475.2" cy="71.2" r="1.75"/><circle cx="477.1" cy="73.9" r="1.75"/><circle cx="421.2" cy="76.4" r="1.75"/><circle cx="442.3" cy="81.1" r="1.75"/><circle cx="462.8" cy="80.5" r="1.75"/><circle cx="437.1" cy="87.3" r="1.75"/><circle cx="426.1" cy="89.8" r="1.75"/><circle cx="429.6" cy="95" r="1.75"/><circle cx="413.5" cy="85.5" r="1.75"/><circle cx="426" cy="104.1" r="1.75"/><circle cx="443.4" cy="107.3" r="1.75"/><circle cx="403" cy="109.7" r="1.75"/><circle cx="403.6" cy="105.1" r="1.75"/><circle cx="436.9" cy="88" r="1.75"/><circle cx="384.5" cy="85.7" r="1.75"/><circle cx="503.3" cy="76.6" r="1.75"/><circle cx="464.3" cy="118" r="1.75"/><circle cx="380" cy="97" r="1.75"/></g><g fill="#1428ff"><circle cx="403.5" cy="55.5" r="1.75"/><circle cx="395.3" cy="65" r="1.75"/><circle cx="428.4" cy="69" r="1.75"/><circle cx="411.9" cy="73.7" r="1.75"/><circle cx="464.4" cy="80.1" r="1.75"/><circle cx="411.2" cy="88" r="1.75"/><circle cx="457.2" cy="93.3" r="1.75"/><circle cx="469" cy="96.3" r="1.75"/><circle cx="470.9" cy="100.4" r="1.75"/><circle cx="476.8" cy="92" r="1.75"/><circle cx="426.4" cy="99.5" r="1.75"/><circle cx="413.7" cy="100.4" r="1.75"/><circle cx="387.5" cy="96.4" r="1.75"/><circle cx="389.9" cy="96.9" r="1.75"/><circle cx="391.8" cy="94.2" r="1.75"/><circle cx="392.7" cy="89.5" r="1.75"/><circle cx="411.7" cy="88.6" r="1.75"/><circle cx="401.7" cy="102.3" r="1.75"/><circle cx="434.7" cy="125.3" r="1.75"/><circle cx="368.6" cy="75.1" r="1.75"/><circle cx="393.1" cy="88.8" r="1.75"/><circle cx="389.7" cy="96.5" r="1.75"/><circle cx="515.2" cy="112.2" r="1.75"/><circle cx="405.6" cy="71.2" r="1.75"/><circle cx="405.3" cy="85.9" r="1.75"/><circle cx="409" cy="84.7" r="1.75"/><circle cx="396.3" cy="80.2" r="1.75"/><circle cx="359" cy="75.6" r="1.75"/></g><g fill="#12eef8"><circle cx="360.1" cy="57.4" r="1.75"/><circle cx="395.3" cy="47.9" r="1.75"/><circle cx="365.4" cy="63.8" r="1.75"/><circle cx="366.7" cy="66.3" r="1.75"/><circle cx="371.5" cy="66.7" r="1.75"/><circle cx="386.4" cy="61.8" r="1.75"/><circle cx="388.3" cy="66.3" r="1.75"/><circle cx="408" cy="53.5" r="1.75"/><circle cx="397.4" cy="59.1" r="1.75"/><circle cx="415.2" cy="88.3" r="1.75"/><circle cx="358.3" cy="72.5" r="1.75"/><circle cx="364.8" cy="79" r="1.75"/><circle cx="361.7" cy="89" r="1.75"/><circle cx="353.8" cy="93.8" r="1.75"/><circle cx="371.3" cy="85.7" r="1.75"/><circle cx="374.9" cy="86.2" r="1.75"/><circle cx="376.3" cy="81.4" r="1.75"/><circle cx="383" cy="80.4" r="1.75"/><circle cx="386.4" cy="77.5" r="1.75"/><circle cx="387.8" cy="89" r="1.75"/><circle cx="372.5" cy="97.7" r="1.75"/><circle cx="375.3" cy="97.7" r="1.75"/><circle cx="376.3" cy="104.3" r="1.75"/><circle cx="387.5" cy="89.2" r="1.75"/><circle cx="415.4" cy="88.6" r="1.75"/><circle cx="406.7" cy="97.3" r="1.75"/><circle cx="408.1" cy="52.5" r="1.75"/><circle cx="375.9" cy="72" r="1.75"/><circle cx="386.9" cy="66.1" r="1.75"/><circle cx="416" cy="70" r="1.75"/></g><g fill="#4e1a96"><circle cx="408.6" cy="66.9" r="1.75"/><circle cx="358.3" cy="75.6" r="1.75"/><circle cx="359.5" cy="80.9" r="1.75"/><circle cx="343.2" cy="89.5" r="1.75"/><circle cx="349.4" cy="98.6" r="1.75"/><circle cx="355" cy="89" r="1.75"/><circle cx="384.8" cy="75.1" r="1.75"/><circle cx="388.6" cy="75.1" r="1.75"/><circle cx="383" cy="86.3" r="1.75"/><circle cx="390.5" cy="79.4" r="1.75"/><circle cx="390.7" cy="87.1" r="1.75"/><circle cx="364.6" cy="106.6" r="1.75"/><circle cx="379.7" cy="101.1" r="1.75"/><circle cx="395.5" cy="111.7" r="1.75"/><circle cx="395.5" cy="117.4" r="1.75"/><circle cx="396.1" cy="105.4" r="1.75"/><circle cx="399.9" cy="90.7" r="1.75"/><circle cx="403.6" cy="104.8" r="1.75"/><circle cx="444.8" cy="81.4" r="1.75"/><circle cx="506.7" cy="106.1" r="1.75"/><circle cx="561.5" cy="141.6" r="1.75"/><circle cx="354.7" cy="88.1" r="1.75"/><circle cx="355" cy="91.5" r="1.75"/></g><g fill="#a541f2"><circle cx="368.6" cy="71.3" r="1.75"/><circle cx="350.9" cy="83.8" r="1.75"/><circle cx="356.6" cy="84.7" r="1.75"/><circle cx="364.8" cy="84.2" r="1.75"/><circle cx="366.2" cy="85.7" r="1.75"/><circle cx="366.7" cy="88.6" r="1.75"/><circle cx="350.9" cy="88.6" r="1.75"/><circle cx="349.9" cy="91.1" r="1.75"/><circle cx="341.3" cy="96.2" r="1.75"/><circle cx="351.4" cy="96.5" r="1.75"/><circle cx="360" cy="98.6" r="1.75"/><circle cx="371.5" cy="82.8" r="1.75"/><circle cx="368.8" cy="78" r="1.75"/><circle cx="388.8" cy="77.3" r="1.75"/><circle cx="360" cy="99.5" r="1.75"/><circle cx="364.8" cy="100.6" r="1.75"/><circle cx="372.5" cy="106.4" r="1.75"/><circle cx="387.8" cy="108.5" r="1.75"/><circle cx="392.1" cy="107.2" r="1.75"/><circle cx="382.5" cy="93.4" r="1.75"/><circle cx="389.3" cy="100.2" r="1.75"/><circle cx="422.9" cy="117.8" r="1.75"/></g>
<g stroke="#6e6e6e" stroke-width="0.3"><line x1="405" y1="77.4" x2="448.3" y2="82.1"/><line x1="405" y1="77.4" x2="452.2" y2="88.7"/><line x1="405" y1="77.4" x2="452.2" y2="86.6"/><line x1="405" y1="77.4" x2="439.7" y2="65.6"/><line x1="405" y1="77.4" x2="443.8" y2="91.2"/><line x1="405" y1="77.4" x2="431.5" y2="85.9"/><line x1="405" y1="77.4" x2="436.2" y2="77.2"/><line x1="405" y1="77.4" x2="444.3" y2="79.3"/><line x1="405" y1="77.4" x2="433.7" y2="67.3"/><line x1="405" y1="77.4" x2="452.4" y2="70.5"/><line x1="405" y1="77.4" x2="433.3" y2="83.5"/><line x1="405" y1="77.4" x2="432.7" y2="84"/><line x1="405" y1="77.4" x2="433" y2="80.3"/><line x1="405" y1="77.4" x2="449" y2="61.5"/><line x1="405" y1="77.4" x2="434.8" y2="71.5"/><line x1="405" y1="77.4" x2="448.6" y2="94.4"/><line x1="405" y1="77.4" x2="453.6" y2="70.7"/><line x1="405" y1="77.4" x2="446.9" y2="79.3"/><line x1="405" y1="77.4" x2="452.6" y2="67.8"/><line x1="405" y1="77.4" x2="453.6" y2="85.1"/><line x1="405" y1="77.4" x2="436" y2="87.2"/><line x1="405" y1="77.4" x2="434" y2="74.9"/><line x1="405" y1="77.4" x2="430.9" y2="71"/><line x1="405" y1="77.4" x2="444.7" y2="72.3"/><line x1="405" y1="77.4" x2="444.5" y2="63.2"/><line x1="405" y1="77.4" x2="437.6" y2="74.1"/><line x1="405" y1="77.4" x2="440.9" y2="86.6"/><line x1="405" y1="77.4" x2="441.8" y2="73.1"/><line x1="405" y1="77.4" x2="431.1" y2="81.8"/><line x1="405" y1="77.4" x2="428.9" y2="86.5"/><line x1="405" y1="77.4" x2="450.2" y2="86.6"/><line x1="405" y1="77.4" x2="447.2" y2="62.7"/><line x1="405" y1="77.4" x2="444.3" y2="74.2"/><line x1="405" y1="77.4" x2="429.6" y2="68.6"/><line x1="405" y1="77.4" x2="452.7" y2="66.9"/><line x1="405" y1="77.4" x2="378.8" y2="73.9"/><line x1="405" y1="77.4" x2="390" y2="80.3"/><line x1="405" y1="77.4" x2="387.2" y2="92.3"/><line x1="405" y1="77.4" x2="380.3" y2="82.5"/><line x1="405" y1="77.4" x2="380.8" y2="85.1"/><line x1="405" y1="77.4" x2="381.1" y2="87.8"/><line x1="405" y1="77.4" x2="386.8" y2="76.2"/><line x1="405" y1="77.4" x2="381.6" y2="80.6"/><line x1="405" y1="77.4" x2="386.5" y2="87.4"/><line x1="405" y1="77.4" x2="389.9" y2="75.2"/><line x1="405" y1="77.4" x2="398.7" y2="60.5"/><line x1="405" y1="77.4" x2="404.7" y2="61"/><line x1="405" y1="77.4" x2="402" y2="55.3"/><line x1="405" y1="77.4" x2="390" y2="57.2"/><line x1="405" y1="77.4" x2="390.5" y2="58.7"/><line x1="405" y1="77.4" x2="395.2" y2="63.8"/><line x1="405" y1="77.4" x2="397.1" y2="46.9"/><line x1="405" y1="77.4" x2="394.5" y2="61"/><line x1="405" y1="77.4" x2="403.6" y2="43.5"/><line x1="405" y1="77.4" x2="402.9" y2="54.6"/><line x1="405" y1="77.4" x2="410.1" y2="62.3"/><line x1="405" y1="77.4" x2="409.1" y2="57"/><line x1="405" y1="77.4" x2="409.2" y2="93.7"/><line x1="405" y1="77.4" x2="401.5" y2="95.6"/><line x1="405" y1="77.4" x2="409" y2="89"/><line x1="405" y1="77.4" x2="409.4" y2="88.8"/><line x1="405" y1="77.4" x2="402.3" y2="88.4"/><line x1="405" y1="77.4" x2="404.6" y2="89.5"/><line x1="405" y1="77.4" x2="408.1" y2="91.4"/><line x1="405" y1="77.4" x2="399.4" y2="92.5"/></g><g stroke="#222" stroke-width="0.4"><line x1="405" y1="77.4" x2="445.7" y2="18.1"/><line x1="405" y1="77.4" x2="383.9" y2="33.2"/><line x1="405" y1="77.4" x2="395.5" y2="32.7"/><line x1="405" y1="77.4" x2="420.3" y2="39.4"/><line x1="405" y1="77.4" x2="374.7" y2="44.9"/><line x1="405" y1="77.4" x2="346.2" y2="49.8"/><line x1="405" y1="77.4" x2="547.7" y2="41.5"/><line x1="405" y1="77.4" x2="564.4" y2="52.1"/><line x1="405" y1="77.4" x2="349.2" y2="74.2"/><line x1="405" y1="77.4" x2="500.9" y2="72.9"/><line x1="405" y1="77.4" x2="494.8" y2="80.4"/><line x1="405" y1="77.4" x2="470.4" y2="85.6"/><line x1="405" y1="77.4" x2="339.5" y2="104.5"/><line x1="405" y1="77.4" x2="374.5" y2="111.2"/></g>
<g fill="#1a1a1a" stroke="#1a1a1a" stroke-width="0.097"><rect x="433.6" y="11.7" width="28.6" height="6.4" rx="0.8" fill="#fff" fill-opacity="0.8" stroke="#8a8a8a" stroke-width="0.45"/><text x="434.7" y="16.5" font-size="4.5760000000000005" textLength="26.4" lengthAdjust="spacingAndGlyphs">RH-aaj90h05</text><rect x="360.3" y="27.7" width="44.5" height="5.5" rx="0.8" fill="#fff" fill-opacity="0.8" stroke="#8a8a8a" stroke-width="0.45"/><text x="361.4" y="32.1" font-size="4.5760000000000005" textLength="42.3" lengthAdjust="spacingAndGlyphs">Methanobacteriaceae</text><rect x="369.6" y="27.7" width="50.8" height="5" rx="0.8" fill="#fff" fill-opacity="0.8" stroke="#8a8a8a" stroke-width="0.45"/><text x="370.7" y="31.8" font-size="4.5760000000000005" textLength="48.6" lengthAdjust="spacingAndGlyphs">Izemoplasmatales Order</text><rect x="396.8" y="34" width="49.2" height="5.4" rx="0.8" fill="#fff" fill-opacity="0.8" stroke="#8a8a8a" stroke-width="0.45"/><text x="397.9" y="38.3" font-size="4.5760000000000005" textLength="47" lengthAdjust="spacingAndGlyphs">F082 paludimonadaceae</text><rect x="362.3" y="40" width="20.3" height="4.9" rx="0.8" fill="#fff" fill-opacity="0.8" stroke="#8a8a8a" stroke-width="0.45"/><text x="363.4" y="44.1" font-size="4.5760000000000005" textLength="18.1" lengthAdjust="spacingAndGlyphs">UCG-012</text><rect x="321.3" y="45" width="39.6" height="4.8" rx="0.8" fill="#fff" fill-opacity="0.8" stroke="#8a8a8a" stroke-width="0.45"/><text x="322.4" y="49" font-size="4.5760000000000005" textLength="37.4" lengthAdjust="spacingAndGlyphs">Anaerovoracaceae</text><rect x="541.6" y="35.6" width="35.6" height="5.9" rx="0.8" fill="#fff" fill-opacity="0.8" stroke="#8a8a8a" stroke-width="0.45"/><text x="542.7" y="40.2" font-size="4.5760000000000005" textLength="33.4" lengthAdjust="spacingAndGlyphs">Planococcaceae</text><rect x="564.4" y="46.7" width="30.3" height="5.9" rx="0.8" fill="#fff" fill-opacity="0.8" stroke="#8a8a8a" stroke-width="0.45"/><text x="565.5" y="51.3" font-size="4.5760000000000005" textLength="28.1" lengthAdjust="spacingAndGlyphs">Moraxellaceae</text><rect x="311.3" y="70.5" width="37.9" height="5.1" rx="0.8" fill="#fff" fill-opacity="0.8" stroke="#8a8a8a" stroke-width="0.45"/><text x="312.4" y="74.7" font-size="4.5760000000000005" textLength="35.7" lengthAdjust="spacingAndGlyphs">Ruminococcaceae</text><rect x="500.9" y="69.4" width="31.7" height="5.6" rx="0.8" fill="#fff" fill-opacity="0.8" stroke="#8a8a8a" stroke-width="0.45"/><text x="502" y="73.8" font-size="4.5760000000000005" textLength="29.5" lengthAdjust="spacingAndGlyphs">Weeksellaceae</text><rect x="494.8" y="78.3" width="39.3" height="5.6" rx="0.8" fill="#fff" fill-opacity="0.8" stroke="#8a8a8a" stroke-width="0.45"/><text x="495.9" y="82.7" font-size="4.5760000000000005" textLength="37.1" lengthAdjust="spacingAndGlyphs">Comamonadaceae</text><rect x="470.4" y="85.4" width="38.3" height="5.1" rx="0.8" fill="#fff" fill-opacity="0.8" stroke="#8a8a8a" stroke-width="0.45"/><text x="471.5" y="89.6" font-size="4.5760000000000005" textLength="36.1" lengthAdjust="spacingAndGlyphs">Flavobacteriaceae</text><rect x="306.7" y="104.5" width="54.8" height="4.5" rx="0.8" fill="#fff" fill-opacity="0.8" stroke="#8a8a8a" stroke-width="0.45"/><text x="307.8" y="108.4" font-size="4.5760000000000005" textLength="52.6" lengthAdjust="spacingAndGlyphs">Alphaproteobacteria Class</text><rect x="361.9" y="111.2" width="20.4" height="5.4" rx="0.8" fill="#fff" fill-opacity="0.8" stroke="#8a8a8a" stroke-width="0.45"/><text x="363" y="115.5" font-size="4.5760000000000005" textLength="18.2" lengthAdjust="spacingAndGlyphs">p-251-o5</text></g>
<polygon points="212.7,246.4 240.4,265.8 245.5,300.4 241.1,309 231.2,319.4 222.7,318 216.6,290.6 209.7,265.8" fill="#B79F00" fill-opacity="0.1" stroke="#12eef8" stroke-width="0.6" stroke-linejoin="round"/><polygon points="239.4,267.8 243.8,270.8 241.8,288.6 228.4,323.8 213.2,303.7 229.5,280.7" fill="#F8766D" fill-opacity="0.1" stroke="#1428ff" stroke-width="0.6" stroke-linejoin="round"/><polygon points="210.7,201.9 226.5,201.3 239.4,227.6 241.8,256.3 203.8,258.3 193.5,252.4 199.8,223.7 208.7,210.8" fill="#00BFC4" fill-opacity="0.1" stroke="#6fe31a" stroke-width="0.6" stroke-linejoin="round"/><polygon points="209.7,220.7 225.1,215.7 232.5,222.7 234.5,255.3 219.6,256.3 209.7,235.5" fill="#00BA38" fill-opacity="0.1" stroke="#41821a" stroke-width="0.6" stroke-linejoin="round"/><polygon points="133.1,241.5 151.3,245.5 153.3,250 153.3,272 134.4,284.6 132.2,285.5 111.1,270.8" fill="#619CFF" fill-opacity="0.1" stroke="#b4232a" stroke-width="0.6" stroke-linejoin="round"/><polygon points="102.6,252.5 122.5,242.2 146.3,236.8 149.2,234.9 150.8,237.6 165,255 137.2,279.3" fill="#F564E3" fill-opacity="0.1" stroke="#e68a72" stroke-width="0.6" stroke-linejoin="round"/>
<g fill="#e68a72"><circle cx="102.6" cy="252.5" r="1.9"/><circle cx="112" cy="256.3" r="1.9"/><circle cx="117" cy="258" r="1.9"/><circle cx="115.7" cy="262.2" r="1.9"/><circle cx="119.6" cy="247" r="1.9"/><circle cx="120.1" cy="248.3" r="1.9"/><circle cx="122.5" cy="242.2" r="1.9"/><circle cx="143.6" cy="243.8" r="1.9"/><circle cx="142.2" cy="248.2" r="1.9"/><circle cx="146.3" cy="236.8" r="1.9"/><circle cx="149.2" cy="234.9" r="1.9"/><circle cx="150.8" cy="237.6" r="1.9"/><circle cx="137.2" cy="279.3" r="1.9"/><circle cx="165" cy="255" r="1.9"/><circle cx="128" cy="262" r="1.9"/><circle cx="131" cy="252" r="1.9"/></g><g fill="#b4232a"><circle cx="133.1" cy="241.5" r="1.9"/><circle cx="129.7" cy="247.8" r="1.9"/><circle cx="128.9" cy="249.5" r="1.9"/><circle cx="123" cy="256.3" r="1.9"/><circle cx="134.3" cy="255.4" r="1.9"/><circle cx="151.8" cy="245.3" r="1.9"/><circle cx="111.1" cy="270.7" r="1.9"/><circle cx="124.7" cy="268.1" r="1.9"/><circle cx="127.2" cy="268.6" r="1.9"/><circle cx="123.8" cy="276.6" r="1.9"/><circle cx="132" cy="285.1" r="1.9"/><circle cx="134.8" cy="284.2" r="1.9"/><circle cx="129.7" cy="280.5" r="1.9"/><circle cx="153.3" cy="250" r="1.9"/><circle cx="153.3" cy="272" r="1.9"/><circle cx="144.6" cy="275.9" r="1.9"/><circle cx="123.7" cy="277" r="1.9"/><circle cx="140" cy="262" r="1.9"/></g><g fill="#6fe31a"><circle cx="210.7" cy="201.9" r="1.9"/><circle cx="226.5" cy="201.3" r="1.9"/><circle cx="208.7" cy="210.8" r="1.9"/><circle cx="199.8" cy="223.7" r="1.9"/><circle cx="209.7" cy="230.6" r="1.9"/><circle cx="202.8" cy="241.9" r="1.9"/><circle cx="207.7" cy="243.9" r="1.9"/><circle cx="193.5" cy="252.4" r="1.9"/><circle cx="205.7" cy="250.4" r="1.9"/><circle cx="235.8" cy="215.7" r="1.9"/><circle cx="231.9" cy="216.1" r="1.9"/><circle cx="239.4" cy="227.6" r="1.9"/><circle cx="241.8" cy="256.3" r="1.9"/><circle cx="221.6" cy="220.7" r="1.9"/><circle cx="223.6" cy="225.6" r="1.9"/><circle cx="227.5" cy="220.7" r="1.9"/><circle cx="214.7" cy="240.5" r="1.9"/><circle cx="224.6" cy="244.5" r="1.9"/><circle cx="220.6" cy="239.5" r="1.9"/><circle cx="203.8" cy="258.3" r="1.9"/></g><g fill="#41821a"><circle cx="210.1" cy="220.7" r="1.9"/><circle cx="212.1" cy="224.7" r="1.9"/><circle cx="218.6" cy="225.2" r="1.9"/><circle cx="224.6" cy="216.1" r="1.9"/><circle cx="227.5" cy="216.7" r="1.9"/><circle cx="231.9" cy="224.7" r="1.9"/><circle cx="233.5" cy="226.6" r="1.9"/><circle cx="210.7" cy="231.6" r="1.9"/><circle cx="211.3" cy="234.6" r="1.9"/><circle cx="219.6" cy="237.5" r="1.9"/><circle cx="221.6" cy="236.5" r="1.9"/><circle cx="229.9" cy="241.1" r="1.9"/><circle cx="232.5" cy="241.9" r="1.9"/><circle cx="231.1" cy="244.5" r="1.9"/><circle cx="234.5" cy="241.1" r="1.9"/><circle cx="227.5" cy="253.8" r="1.9"/><circle cx="233.9" cy="255.3" r="1.9"/><circle cx="219.6" cy="256.3" r="1.9"/><circle cx="221.6" cy="225.6" r="1.9"/><circle cx="225.1" cy="215.7" r="1.9"/></g><g fill="#12eef8"><circle cx="228.5" cy="260.9" r="1.9"/><circle cx="240.4" cy="265.8" r="1.9"/><circle cx="245.3" cy="281.7" r="1.9"/><circle cx="216.6" cy="290.6" r="1.9"/><circle cx="219.6" cy="296.5" r="1.9"/><circle cx="237.4" cy="290.6" r="1.9"/><circle cx="242.4" cy="291.6" r="1.9"/><circle cx="234.5" cy="297.5" r="1.9"/><circle cx="240.4" cy="297.5" r="1.9"/><circle cx="245.3" cy="300.5" r="1.9"/><circle cx="226.5" cy="303.1" r="1.9"/><circle cx="241.4" cy="309.4" r="1.9"/><circle cx="222.7" cy="318" r="1.9"/><circle cx="231.2" cy="319.4" r="1.9"/><circle cx="245.5" cy="300.4" r="1.9"/><circle cx="212.7" cy="246.4" r="1.9"/><circle cx="229.5" cy="310.4" r="1.9"/></g><g fill="#1428ff"><circle cx="239.4" cy="267.8" r="1.9"/><circle cx="243.8" cy="270.8" r="1.9"/><circle cx="229.5" cy="280.7" r="1.9"/><circle cx="224.6" cy="287.6" r="1.9"/><circle cx="227.5" cy="287.6" r="1.9"/><circle cx="223.2" cy="289.6" r="1.9"/><circle cx="241.8" cy="288.6" r="1.9"/><circle cx="236.4" cy="296.5" r="1.9"/><circle cx="213.2" cy="303.7" r="1.9"/><circle cx="220.6" cy="304.5" r="1.9"/><circle cx="225.1" cy="303.1" r="1.9"/><circle cx="229.1" cy="305.4" r="1.9"/><circle cx="225.5" cy="306.4" r="1.9"/><circle cx="220.6" cy="309.4" r="1.9"/><circle cx="221.6" cy="310.4" r="1.9"/><circle cx="224.6" cy="313.4" r="1.9"/><circle cx="226.5" cy="313.4" r="1.9"/><circle cx="228.5" cy="314.4" r="1.9"/><circle cx="228.4" cy="323.8" r="1.9"/><circle cx="238.4" cy="307.4" r="1.9"/></g>
<g stroke="#6e6e6e" stroke-width="0.3"><line x1="200.8" y1="257.5" x2="175" y2="252"/><line x1="200.8" y1="257.5" x2="176" y2="251"/><line x1="200.8" y1="257.5" x2="178" y2="254"/><line x1="200.8" y1="257.5" x2="170" y2="256"/><line x1="200.8" y1="257.5" x2="172" y2="256.5"/></g><g stroke="#222" stroke-width="0.45"><line x1="200.8" y1="257.5" x2="220.7" y2="214.2"/><line x1="200.8" y1="257.5" x2="225.5" y2="234.6"/><line x1="200.8" y1="257.5" x2="245" y2="259.8"/><line x1="200.8" y1="257.5" x2="280" y2="263.2"/><line x1="200.8" y1="257.5" x2="236.8" y2="272.4"/><line x1="200.8" y1="257.5" x2="166.2" y2="254.1"/><line x1="200.8" y1="257.5" x2="171.9" y2="252.8"/><line x1="200.8" y1="257.5" x2="174" y2="251.3"/><line x1="200.8" y1="257.5" x2="158.6" y2="259.4"/><line x1="200.8" y1="257.5" x2="152" y2="270.4"/></g>
<g fill="#1a1a1a" stroke="#1a1a1a" stroke-width="0.121"><rect x="211.7" y="209.4" width="20.2" height="4.8" rx="0.8" fill="#fff" fill-opacity="0.8" stroke="#8a8a8a" stroke-width="0.45"/><text x="212.8" y="213.8" font-size="5.720000000000001" textLength="18" lengthAdjust="spacingAndGlyphs">Aristida</text><rect x="212.7" y="229.6" width="31.1" height="5" rx="0.8" fill="#fff" fill-opacity="0.8" stroke="#8a8a8a" stroke-width="0.45"/><text x="213.8" y="234.1" font-size="5.720000000000001" textLength="28.9" lengthAdjust="spacingAndGlyphs">Phyllanthus</text><rect x="245" y="257.9" width="22.1" height="5" rx="0.8" fill="#fff" fill-opacity="0.8" stroke="#8a8a8a" stroke-width="0.45"/><text x="246.1" y="262.4" font-size="5.720000000000001" textLength="19.9" lengthAdjust="spacingAndGlyphs">Digitaria</text><rect x="280" y="261.3" width="24.8" height="5.5" rx="0.8" fill="#fff" fill-opacity="0.8" stroke="#8a8a8a" stroke-width="0.45"/><text x="281.1" y="266.1" font-size="5.720000000000001" textLength="22.6" lengthAdjust="spacingAndGlyphs">Cenchrus</text><rect x="221" y="272.4" width="44.5" height="5.3" rx="0.8" fill="#fff" fill-opacity="0.8" stroke="#8a8a8a" stroke-width="0.45"/><text x="222.1" y="277.1" font-size="5.720000000000001" textLength="42.3" lengthAdjust="spacingAndGlyphs">Fabaceae Family</text><rect x="139.2" y="249.8" width="27" height="6" rx="0.8" fill="#fff" fill-opacity="0.8" stroke="#8a8a8a" stroke-width="0.45"/><text x="140.3" y="254.8" font-size="5.720000000000001" textLength="24.8" lengthAdjust="spacingAndGlyphs">Brachiaria</text><rect x="147.8" y="247.2" width="24.1" height="7.2" rx="0.8" fill="#fff" fill-opacity="0.8" stroke="#8a8a8a" stroke-width="0.45"/><text x="148.9" y="252.8" font-size="5.720000000000001" textLength="21.9" lengthAdjust="spacingAndGlyphs">Vachellia</text><rect x="154.2" y="246.1" width="19.8" height="5.9" rx="0.8" fill="#fff" fill-opacity="0.8" stroke="#8a8a8a" stroke-width="0.45"/><text x="155.3" y="251.1" font-size="5.720000000000001" textLength="17.6" lengthAdjust="spacingAndGlyphs">ASV50</text><rect x="139.5" y="257.3" width="19.1" height="5.1" rx="0.8" fill="#fff" fill-opacity="0.8" stroke="#8a8a8a" stroke-width="0.45"/><text x="140.6" y="261.9" font-size="5.720000000000001" textLength="16.9" lengthAdjust="spacingAndGlyphs">ASV15</text><rect x="111.8" y="270.4" width="59.3" height="5.6" rx="0.8" fill="#fff" fill-opacity="0.8" stroke="#8a8a8a" stroke-width="0.45"/><text x="112.9" y="275.2" font-size="5.720000000000001" textLength="57.1" lengthAdjust="spacingAndGlyphs">Amaranthaceae Family</text></g>
<polygon points="347.6,247.1 389.9,207.6 410.2,198.1 445,242 445.6,267.6 398,324.3" fill="#B79F00" fill-opacity="0.1" stroke="#12eef8" stroke-width="0.6" stroke-linejoin="round"/><polygon points="338.6,253.2 377.5,200.4 405.7,194.5 427.6,199.7 441.2,199 441.2,254 414.8,289" fill="#F8766D" fill-opacity="0.1" stroke="#1428ff" stroke-width="0.6" stroke-linejoin="round"/><polygon points="347,258.4 400,216.6 470,218 500,222 476,240 453.4,287 413.9,311.7" fill="#00BFC4" fill-opacity="0.1" stroke="#6fe31a" stroke-width="0.6" stroke-linejoin="round"/><polygon points="359.4,245.6 388.3,213.2 464.8,195.4 487.7,233 448.5,314" fill="#00BA38" fill-opacity="0.1" stroke="#41821a" stroke-width="0.6" stroke-linejoin="round"/><polygon points="388.4,278.8 408.9,259.8 463.5,213.7 555,247.5 540.5,280.7 479.3,329.5" fill="#619CFF" fill-opacity="0.1" stroke="#b4232a" stroke-width="0.6" stroke-linejoin="round"/><polygon points="389.2,235.2 408,205.8 418.1,205.8 503.7,210.2 525.3,261.6 492.8,281.2 455.4,302.3 403,292.6" fill="#F564E3" fill-opacity="0.1" stroke="#e68a72" stroke-width="0.6" stroke-linejoin="round"/>
<g fill="#1428ff"><circle cx="338.6" cy="253.2" r="1.9"/><circle cx="343.6" cy="250.1" r="1.9"/><circle cx="377.5" cy="200.4" r="1.9"/><circle cx="405.7" cy="194.5" r="1.9"/><circle cx="427.6" cy="199.7" r="1.9"/><circle cx="441.2" cy="199" r="1.9"/><circle cx="378.6" cy="213.9" r="1.9"/><circle cx="398.9" cy="239.2" r="1.9"/><circle cx="412.5" cy="244.9" r="1.9"/><circle cx="409.5" cy="253.9" r="1.9"/><circle cx="439.6" cy="253.9" r="1.9"/><circle cx="388.4" cy="279.4" r="1.9"/><circle cx="389.8" cy="282.9" r="1.9"/><circle cx="414.8" cy="288.8" r="1.9"/><circle cx="420.7" cy="282.9" r="1.9"/><circle cx="408.9" cy="254.4" r="1.9"/><circle cx="428" cy="279.4" r="1.9"/><circle cx="430.3" cy="275.8" r="1.9"/><circle cx="441.2" cy="254" r="1.9"/><circle cx="420" cy="230" r="1.9"/><circle cx="432" cy="238" r="1.9"/></g><g fill="#12eef8"><circle cx="389.9" cy="207.6" r="1.9"/><circle cx="410.2" cy="198.1" r="1.9"/><circle cx="422.7" cy="215.5" r="1.9"/><circle cx="415.9" cy="221.2" r="1.9"/><circle cx="418.1" cy="223" r="1.9"/><circle cx="400" cy="225.2" r="1.9"/><circle cx="371.1" cy="247.1" r="1.9"/><circle cx="377" cy="255.5" r="1.9"/><circle cx="348.1" cy="247.1" r="1.9"/><circle cx="362.8" cy="260" r="1.9"/><circle cx="420.4" cy="253.9" r="1.9"/><circle cx="417" cy="263" r="1.9"/><circle cx="361.9" cy="260.3" r="1.9"/><circle cx="376.6" cy="255.3" r="1.9"/><circle cx="389.2" cy="294.6" r="1.9"/><circle cx="398" cy="324.3" r="1.9"/><circle cx="410.4" cy="292" r="1.9"/><circle cx="417.7" cy="263.2" r="1.9"/><circle cx="445" cy="242" r="1.9"/><circle cx="445.6" cy="267.6" r="1.9"/><circle cx="435" cy="230" r="1.9"/></g><g fill="#41821a"><circle cx="388.3" cy="213.2" r="1.9"/><circle cx="386" cy="232.9" r="1.9"/><circle cx="359.4" cy="245.6" r="1.9"/><circle cx="428.3" cy="231.3" r="1.9"/><circle cx="424.9" cy="223.9" r="1.9"/><circle cx="408" cy="244.9" r="1.9"/><circle cx="400.5" cy="244.2" r="1.9"/><circle cx="439.6" cy="230.2" r="1.9"/><circle cx="398.6" cy="281.7" r="1.9"/><circle cx="403" cy="281.7" r="1.9"/><circle cx="419.2" cy="275.8" r="1.9"/><circle cx="430.9" cy="278.8" r="1.9"/><circle cx="439.7" cy="269.1" r="1.9"/><circle cx="448.5" cy="314" r="1.9"/><circle cx="442.7" cy="254.4" r="1.9"/><circle cx="464.8" cy="195.4" r="1.9"/><circle cx="444.5" cy="231" r="1.9"/><circle cx="467.3" cy="232.3" r="1.9"/><circle cx="487.7" cy="233" r="1.9"/><circle cx="468.6" cy="246.4" r="1.9"/><circle cx="447" cy="259.1" r="1.9"/><circle cx="440.7" cy="269.2" r="1.9"/></g><g fill="#6fe31a"><circle cx="363.4" cy="246.5" r="1.9"/><circle cx="404.1" cy="226.8" r="1.9"/><circle cx="406.8" cy="232.5" r="1.9"/><circle cx="411.4" cy="229.7" r="1.9"/><circle cx="422.7" cy="219.4" r="1.9"/><circle cx="384.2" cy="257.3" r="1.9"/><circle cx="385.4" cy="257.8" r="1.9"/><circle cx="400" cy="258.4" r="1.9"/><circle cx="347" cy="258.4" r="1.9"/><circle cx="412.5" cy="263" r="1.9"/><circle cx="347.3" cy="259.4" r="1.9"/><circle cx="371.6" cy="267" r="1.9"/><circle cx="379.5" cy="268.2" r="1.9"/><circle cx="381" cy="285.2" r="1.9"/><circle cx="391.3" cy="288.2" r="1.9"/><circle cx="392.8" cy="290.2" r="1.9"/><circle cx="384" cy="257.3" r="1.9"/><circle cx="401" cy="258.8" r="1.9"/><circle cx="413.9" cy="311.7" r="1.9"/><circle cx="433.9" cy="293.5" r="1.9"/><circle cx="448.5" cy="287.6" r="1.9"/><circle cx="453" cy="287.6" r="1.9"/><circle cx="425" cy="275" r="1.9"/><circle cx="423.6" cy="273.5" r="1.9"/><circle cx="448.5" cy="270" r="1.9"/><circle cx="448.3" cy="287" r="1.9"/><circle cx="434.3" cy="293.4" r="1.9"/><circle cx="453.4" cy="269.2" r="1.9"/><circle cx="421.6" cy="215.7" r="1.9"/><circle cx="400" cy="216.6" r="1.9"/></g><g fill="#b4232a"><circle cx="463.5" cy="213.7" r="1.9"/><circle cx="494" cy="232.3" r="1.9"/><circle cx="527.1" cy="237.9" r="1.9"/><circle cx="555" cy="247.5" r="1.9"/><circle cx="527.6" cy="251.4" r="1.9"/><circle cx="526.6" cy="265.9" r="1.9"/><circle cx="540.5" cy="280.7" r="1.9"/><circle cx="518.2" cy="284.5" r="1.9"/><circle cx="479.3" cy="329.5" r="1.9"/><circle cx="463.5" cy="301.5" r="1.9"/><circle cx="452.1" cy="295.4" r="1.9"/><circle cx="408.9" cy="259.8" r="1.9"/><circle cx="463.5" cy="262.4" r="1.9"/><circle cx="472.4" cy="228.5" r="1.9"/><circle cx="388.4" cy="278.8" r="1.9"/><circle cx="408" cy="259.6" r="1.9"/></g><g fill="#e68a72"><circle cx="503.7" cy="210.2" r="1.9"/><circle cx="495.3" cy="247.1" r="1.9"/><circle cx="511.8" cy="247.1" r="1.9"/><circle cx="487.7" cy="260.3" r="1.9"/><circle cx="486.4" cy="264.9" r="1.9"/><circle cx="505.5" cy="265.9" r="1.9"/><circle cx="525.3" cy="261.6" r="1.9"/><circle cx="492.8" cy="281.2" r="1.9"/><circle cx="455.4" cy="302.3" r="1.9"/><circle cx="472.4" cy="259.8" r="1.9"/><circle cx="449.6" cy="232.3" r="1.9"/><circle cx="511.8" cy="233.5" r="1.9"/><circle cx="497.8" cy="229.7" r="1.9"/><circle cx="403" cy="292.6" r="1.9"/><circle cx="408" cy="205.8" r="1.9"/><circle cx="418.1" cy="205.8" r="1.9"/><circle cx="389.2" cy="235.2" r="1.9"/><circle cx="520.7" cy="235.6" r="1.9"/></g>
<g stroke="#6e6e6e" stroke-width="0.3"><line x1="430" y1="250" x2="395.4" y2="228"/><line x1="430" y1="250" x2="399.7" y2="234.6"/><line x1="430" y1="250" x2="410.3" y2="240.9"/><line x1="430" y1="250" x2="424.6" y2="230.1"/><line x1="430" y1="250" x2="414.4" y2="227.5"/><line x1="430" y1="250" x2="409.9" y2="230"/><line x1="430" y1="250" x2="397.8" y2="231"/><line x1="430" y1="250" x2="410.7" y2="241"/><line x1="430" y1="250" x2="409.3" y2="242"/><line x1="430" y1="250" x2="400.9" y2="223.5"/><line x1="430" y1="250" x2="416.3" y2="238.2"/><line x1="430" y1="250" x2="395.5" y2="226.5"/><line x1="430" y1="250" x2="400.9" y2="237.4"/><line x1="430" y1="250" x2="405.1" y2="228.6"/><line x1="430" y1="250" x2="403.7" y2="229"/><line x1="430" y1="250" x2="408" y2="226.1"/><line x1="430" y1="250" x2="419.3" y2="221.2"/><line x1="430" y1="250" x2="415.2" y2="242.2"/><line x1="430" y1="250" x2="421.3" y2="223.2"/><line x1="430" y1="250" x2="395.1" y2="229.3"/><line x1="430" y1="250" x2="408.6" y2="222.7"/><line x1="430" y1="250" x2="421.7" y2="228.9"/><line x1="430" y1="250" x2="400.2" y2="225.3"/><line x1="430" y1="250" x2="398.4" y2="233.6"/><line x1="430" y1="250" x2="399.6" y2="235.6"/><line x1="430" y1="250" x2="408.8" y2="215.3"/><line x1="430" y1="250" x2="418.5" y2="223.8"/><line x1="430" y1="250" x2="413.6" y2="240.2"/><line x1="430" y1="250" x2="411.2" y2="228.3"/><line x1="430" y1="250" x2="394" y2="234"/><line x1="430" y1="250" x2="407.3" y2="224.8"/><line x1="430" y1="250" x2="411.7" y2="238.5"/><line x1="430" y1="250" x2="407.3" y2="241.4"/><line x1="430" y1="250" x2="408.3" y2="235"/><line x1="430" y1="250" x2="401.6" y2="225.5"/><line x1="430" y1="250" x2="454.2" y2="247.3"/><line x1="430" y1="250" x2="464.6" y2="237.8"/><line x1="430" y1="250" x2="455" y2="238.5"/><line x1="430" y1="250" x2="446.7" y2="253.2"/><line x1="430" y1="250" x2="460.4" y2="248.5"/><line x1="430" y1="250" x2="452.5" y2="240.3"/><line x1="430" y1="250" x2="456.3" y2="251.4"/><line x1="430" y1="250" x2="448.9" y2="251.3"/><line x1="430" y1="250" x2="447.1" y2="245.3"/><line x1="430" y1="250" x2="468" y2="246.8"/><line x1="430" y1="250" x2="464.3" y2="249.2"/><line x1="430" y1="250" x2="463.2" y2="244.4"/><line x1="430" y1="250" x2="450.8" y2="242"/><line x1="430" y1="250" x2="463.1" y2="251.1"/><line x1="430" y1="250" x2="447" y2="247.6"/><line x1="430" y1="250" x2="428.8" y2="268.5"/><line x1="430" y1="250" x2="429" y2="264.1"/><line x1="430" y1="250" x2="422.9" y2="275.5"/><line x1="430" y1="250" x2="428.2" y2="263.1"/><line x1="430" y1="250" x2="429.7" y2="266.6"/><line x1="430" y1="250" x2="436.3" y2="278.4"/><line x1="430" y1="250" x2="425.4" y2="259.9"/><line x1="430" y1="250" x2="423.2" y2="271"/><line x1="430" y1="250" x2="431.6" y2="265.6"/><line x1="430" y1="250" x2="427.1" y2="268.9"/><line x1="430" y1="250" x2="426.2" y2="272.9"/><line x1="430" y1="250" x2="438" y2="274.1"/><line x1="430" y1="250" x2="418" y2="276.8"/><line x1="430" y1="250" x2="428.9" y2="260.8"/><line x1="430" y1="250" x2="435.3" y2="261.5"/><line x1="430" y1="250" x2="408.1" y2="260"/><line x1="430" y1="250" x2="401.2" y2="248.7"/><line x1="430" y1="250" x2="415.5" y2="254.3"/><line x1="430" y1="250" x2="407" y2="247.3"/><line x1="430" y1="250" x2="407.1" y2="256.1"/><line x1="430" y1="250" x2="404.9" y2="254.5"/><line x1="430" y1="250" x2="416.8" y2="255.9"/><line x1="430" y1="250" x2="413.4" y2="245.5"/><line x1="430" y1="250" x2="405.1" y2="257.6"/><line x1="430" y1="250" x2="417" y2="249.6"/></g><g stroke="#222" stroke-width="0.4"><line x1="430" y1="250" x2="348.2" y2="227.8"/><line x1="430" y1="250" x2="379.8" y2="227.8"/><line x1="430" y1="250" x2="381.9" y2="224.7"/><line x1="430" y1="250" x2="378.2" y2="231"/><line x1="430" y1="250" x2="385.1" y2="245.8"/><line x1="430" y1="250" x2="451.8" y2="211.9"/><line x1="430" y1="250" x2="531.5" y2="226.4"/><line x1="430" y1="250" x2="487.4" y2="221.6"/><line x1="430" y1="250" x2="482.6" y2="231"/><line x1="430" y1="250" x2="509.3" y2="244.7"/><line x1="430" y1="250" x2="470.2" y2="244.5"/><line x1="430" y1="250" x2="491.1" y2="273.8"/><line x1="430" y1="250" x2="530.9" y2="292.1"/></g>
<g fill="#1a1a1a" stroke="#1a1a1a" stroke-width="0.128"><rect x="306.5" y="220.9" width="58" height="6.9" rx="0.8" fill="#fff" fill-opacity="0.8" stroke="#8a8a8a" stroke-width="0.45"/><text x="307.6" y="226.5" font-size="6.032" textLength="55.8" lengthAdjust="spacingAndGlyphs">Methanobacteriaceae</text><rect x="346.5" y="220.9" width="50.9" height="6.9" rx="0.8" fill="#fff" fill-opacity="0.8" stroke="#8a8a8a" stroke-width="0.45"/><text x="347.6" y="226.5" font-size="6.032" textLength="48.7" lengthAdjust="spacingAndGlyphs">Anaerovoracaceae</text><rect x="357.4" y="218.3" width="36.9" height="6.4" rx="0.8" fill="#fff" fill-opacity="0.8" stroke="#8a8a8a" stroke-width="0.45"/><text x="358.5" y="223.6" font-size="6.032" textLength="34.7" lengthAdjust="spacingAndGlyphs">Eggerthellaceae</text><rect x="342.9" y="224.7" width="53.5" height="6.3" rx="0.8" fill="#fff" fill-opacity="0.8" stroke="#8a8a8a" stroke-width="0.45"/><text x="344" y="230" font-size="6.032" textLength="51.3" lengthAdjust="spacingAndGlyphs">Selenomonadaceae</text><rect x="309" y="239.5" width="84.8" height="6.3" rx="0.8" fill="#fff" fill-opacity="0.8" stroke="#8a8a8a" stroke-width="0.45"/><text x="310.1" y="244.8" font-size="6.032" textLength="82.6" lengthAdjust="spacingAndGlyphs">Coriobacteriales Incertae Sedis</text><rect x="421.6" y="205.6" width="64" height="6.3" rx="0.8" fill="#fff" fill-opacity="0.8" stroke="#8a8a8a" stroke-width="0.45"/><text x="422.7" y="210.9" font-size="6.032" textLength="61.8" lengthAdjust="spacingAndGlyphs">Bacteroidales UCG-001</text><rect x="521.5" y="220.3" width="46.2" height="6.1" rx="0.8" fill="#fff" fill-opacity="0.8" stroke="#8a8a8a" stroke-width="0.45"/><text x="522.6" y="225.5" font-size="6.032" textLength="44" lengthAdjust="spacingAndGlyphs"> sis11 gut group</text><rect x="452.1" y="215.7" width="82.6" height="5.9" rx="0.8" fill="#fff" fill-opacity="0.8" stroke="#8a8a8a" stroke-width="0.45"/><text x="453.2" y="220.8" font-size="6.032" textLength="80.4" lengthAdjust="spacingAndGlyphs">Bacteria Kingdom-nuclostridium</text><rect x="459.7" y="224.1" width="64.8" height="6.9" rx="0.8" fill="#fff" fill-opacity="0.8" stroke="#8a8a8a" stroke-width="0.45"/><text x="460.8" y="229.7" font-size="6.032" textLength="62.6" lengthAdjust="spacingAndGlyphs">Campylobacteraceae in</text><rect x="509.3" y="239.9" width="50.3" height="6.3" rx="0.8" fill="#fff" fill-opacity="0.8" stroke="#8a8a8a" stroke-width="0.45"/><text x="510.4" y="245.2" font-size="6.032" textLength="48.1" lengthAdjust="spacingAndGlyphs">Corynebacterineae</text><rect x="459" y="238.1" width="69.3" height="6.4" rx="0.8" fill="#fff" fill-opacity="0.8" stroke="#8a8a8a" stroke-width="0.45"/><text x="460.1" y="243.4" font-size="6.032" textLength="67.1" lengthAdjust="spacingAndGlyphs">Bacteroidales RF16 group</text><rect x="472.9" y="273.8" width="52.9" height="6.4" rx="0.8" fill="#fff" fill-opacity="0.8" stroke="#8a8a8a" stroke-width="0.45"/><text x="474" y="279.1" font-size="6.032" textLength="50.7" lengthAdjust="spacingAndGlyphs">Enterobacteriaceae</text><rect x="516.9" y="292.1" width="44.5" height="6.9" rx="0.8" fill="#fff" fill-opacity="0.8" stroke="#8a8a8a" stroke-width="0.45"/><text x="518" y="297.7" font-size="6.032" textLength="42.3" lengthAdjust="spacingAndGlyphs">Planococcaceae</text></g>
<g font-weight="bold" font-size="24" fill="#000">
<text x="76.3" y="21" transform="translate(76.3 0) scale(0.88 1) translate(-76.3 0)">a</text>
<text x="312" y="18" transform="translate(312 0) scale(0.88 1) translate(-312 0)">b</text>
<text x="83.3" y="188.6" transform="translate(83.3 0) scale(0.82 1) translate(-83.3 0)">c</text>
<text x="333.3" y="191.2" transform="translate(333.3 0) scale(0.88 1) translate(-333.3 0)">d</text>
</g>
<g fill="#1a1a1a">
<text x="198.6" y="155.6" text-anchor="middle" font-size="13.2" textLength="76" lengthAdjust="spacingAndGlyphs">PC1 [13.0%]</text>
<text transform="translate(89.9 70.6) rotate(-90)" text-anchor="middle" font-size="13.2" textLength="67.5" lengthAdjust="spacingAndGlyphs">PC2 [9.5%]</text>
<text x="455.6" y="162.8" text-anchor="middle" font-size="11.6" textLength="65.5" lengthAdjust="spacingAndGlyphs">PC1 [11.0%]</text>
<text transform="translate(309.4 77.7) rotate(-90)" text-anchor="middle" font-size="11.9" textLength="59.4" lengthAdjust="spacingAndGlyphs">PC2 [7.2%]</text>
<text x="198" y="345" text-anchor="middle" font-size="11.8" textLength="65.4" lengthAdjust="spacingAndGlyphs">PC1 [23.3%]</text>
<text transform="translate(84.4 261.8) rotate(-90)" text-anchor="middle" font-size="12.2" textLength="59" lengthAdjust="spacingAndGlyphs">PC2 [7.7%]</text>
<text x="445.6" y="352.8" text-anchor="middle" font-size="12" textLength="67.7" lengthAdjust="spacingAndGlyphs">PC1 [13.0%]</text>
<text transform="translate(315 262.9) rotate(-90)" text-anchor="middle" font-size="12" textLength="62.2" lengthAdjust="spacingAndGlyphs">PC2 [9.8%]</text>
</g>
<g font-size="10.2" fill="#111">
<circle cx="571.9" cy="136.9" r="4" fill="#1428ff"/>
<text x="582.2" y="138.9" textLength="62.3" lengthAdjust="spacingAndGlyphs" stroke="#111" stroke-width="0.22">Lewa pre rains</text>
<circle cx="571.9" cy="154.3" r="4" fill="#12eef8"/>
<text x="582.2" y="156.3" textLength="67.8" lengthAdjust="spacingAndGlyphs" stroke="#111" stroke-width="0.22">Lewa post rains</text>
<circle cx="571.9" cy="171" r="4" fill="#41821a"/>
<text x="582.2" y="173" textLength="97.8" lengthAdjust="spacingAndGlyphs" stroke="#111" stroke-width="0.22">Mpala-Ol jogi pre rains</text>
<circle cx="571.9" cy="187.9" r="4" fill="#6fe31a"/>
<text x="582.2" y="189.9" textLength="101.5" lengthAdjust="spacingAndGlyphs" stroke="#111" stroke-width="0.22">Mpala-Ol jogi post rains</text>
<circle cx="572.7" cy="205.2" r="4" fill="#4e1a96"/>
<text x="582.9" y="207.2" textLength="78.7" lengthAdjust="spacingAndGlyphs" stroke="#111" stroke-width="0.22">Ol Pejeta pre rains</text>
<circle cx="572.7" cy="221.2" r="4" fill="#a541f2"/>
<text x="581.6" y="223.2" textLength="83.8" lengthAdjust="spacingAndGlyphs" stroke="#111" stroke-width="0.22">Ol Pejeta post rains</text>
<circle cx="571.4" cy="238.3" r="4" fill="#b4232a"/>
<text x="579" y="240.3" textLength="79.6" lengthAdjust="spacingAndGlyphs" stroke="#111" stroke-width="0.22">Westgate pre rains</text>
<circle cx="571.4" cy="254.3" r="4" fill="#e68a72"/>
<text x="579" y="256.3" textLength="84.7" lengthAdjust="spacingAndGlyphs" stroke="#111" stroke-width="0.22">Westgate post rains</text>
</g>
</svg></body></html>
